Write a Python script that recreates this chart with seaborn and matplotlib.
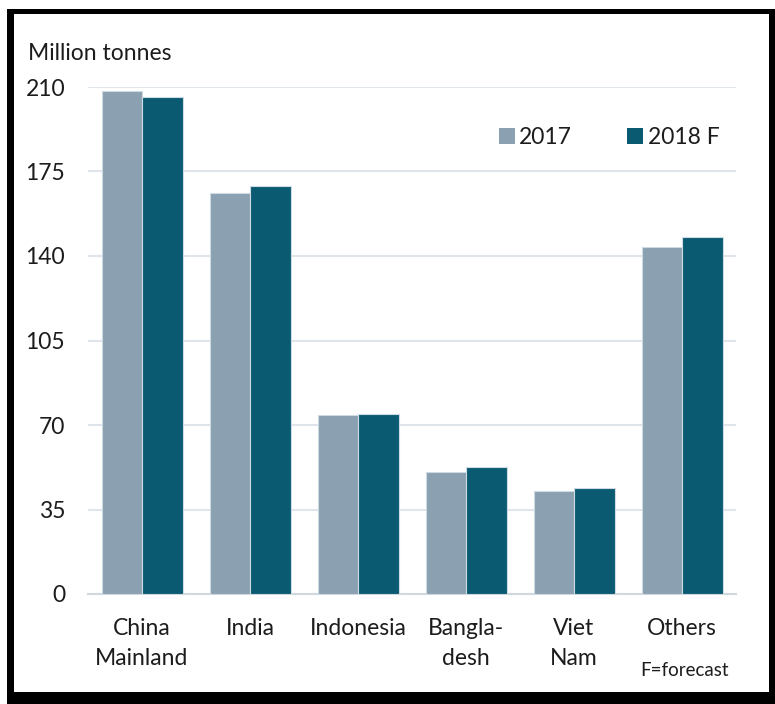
import matplotlib
matplotlib.use("Agg")
import matplotlib.pyplot as plt
from matplotlib.patches import Rectangle
import seaborn as sns
import pandas as pd

# Production by country, million tonnes
countries = ["China\nMainland", "India", "Indonesia", "Bangla-\ndesh", "Viet\nNam", "Others"]
values_2017 = [208.3, 166.0, 74.0, 50.7, 42.7, 143.9]
values_2018 = [206.0, 169.0, 74.5, 52.7, 43.8, 147.8]
series = ["2017", "2018 F"]
y_ticks = [0, 35, 70, 105, 140, 175, 210]

df = pd.DataFrame({
    "country": countries * 2,
    "value": values_2017 + values_2018,
    "year": [series[0]] * len(countries) + [series[1]] * len(countries),
})

sns.set_theme(style="white")
plt.rcParams["font.family"] = ["Lato", "DejaVu Sans"]
text_color = "#1c1c1c"

fig = plt.figure(figsize=(7.75, 7.04), dpi=100)
W, H = 775, 704

# Black frame with a drop shadow on the right/bottom
fig.patches.append(Rectangle((7 / W, 0), (W - 7) / W, (H - 9) / H,
                             transform=fig.transFigure, facecolor="black",
                             edgecolor="none", zorder=-2))
fig.patches.append(Rectangle((14 / W, (H - 692) / H), (769 - 14) / W, (692 - 14) / H,
                             transform=fig.transFigure, facecolor="white",
                             edgecolor="none", zorder=-1))

ax = fig.add_axes([88 / W, 1 - 594 / H, (736 - 88) / W, (594 - 87) / H])
ax.set_zorder(2)
ax.patch.set_alpha(0)

palette = {"2017": "#8ba0b0", "2018 F": "#0a5a72"}
sns.barplot(data=df, x="country", y="value", hue="year", hue_order=series,
            palette=palette, saturation=1, width=0.75, edgecolor="#cfdbe3",
            linewidth=0.8, ax=ax, zorder=3)

ax.set_ylim(0, 210)
ax.set_yticks(y_ticks)
ax.set_xlim(-0.5, len(countries) - 0.5)
ax.yaxis.grid(True, color="#dfe5ea", linewidth=1.5, zorder=0)
ax.set_axisbelow(True)
for side in ["top", "right", "left"]:
    ax.spines[side].set_visible(False)
ax.spines["bottom"].set_color("#cfd8df")
ax.spines["bottom"].set_linewidth(1.5)
ax.tick_params(axis="y", length=0, pad=16.5, labelsize=16.5, labelcolor=text_color)
ax.tick_params(axis="x", length=0, pad=17, labelsize=16.5, labelcolor=text_color)
for lab in ax.get_xticklabels():
    lab.set_linespacing(1.55)
ax.set_xlabel("")
ax.set_ylabel("")

fig.text(28 / W, 1 - 53 / H, "Million tonnes", fontsize=16.5, color=text_color,
         ha="left", va="center", zorder=3)
fig.text(684 / W, 1 - 670 / H, "F=forecast", fontsize=13.5, color=text_color,
         ha="center", va="center", zorder=3)

leg = ax.legend(loc="center left", bbox_to_anchor=(0.602, 0.9), ncol=2, frameon=False,
                fontsize=16.5, handlelength=0.7, handleheight=0.7, handletextpad=0.2,
                columnspacing=2.4, labelcolor=text_color)
for h in leg.legend_handles:
    h.set_edgecolor("none")

fig.savefig("out.png", dpi=100)
